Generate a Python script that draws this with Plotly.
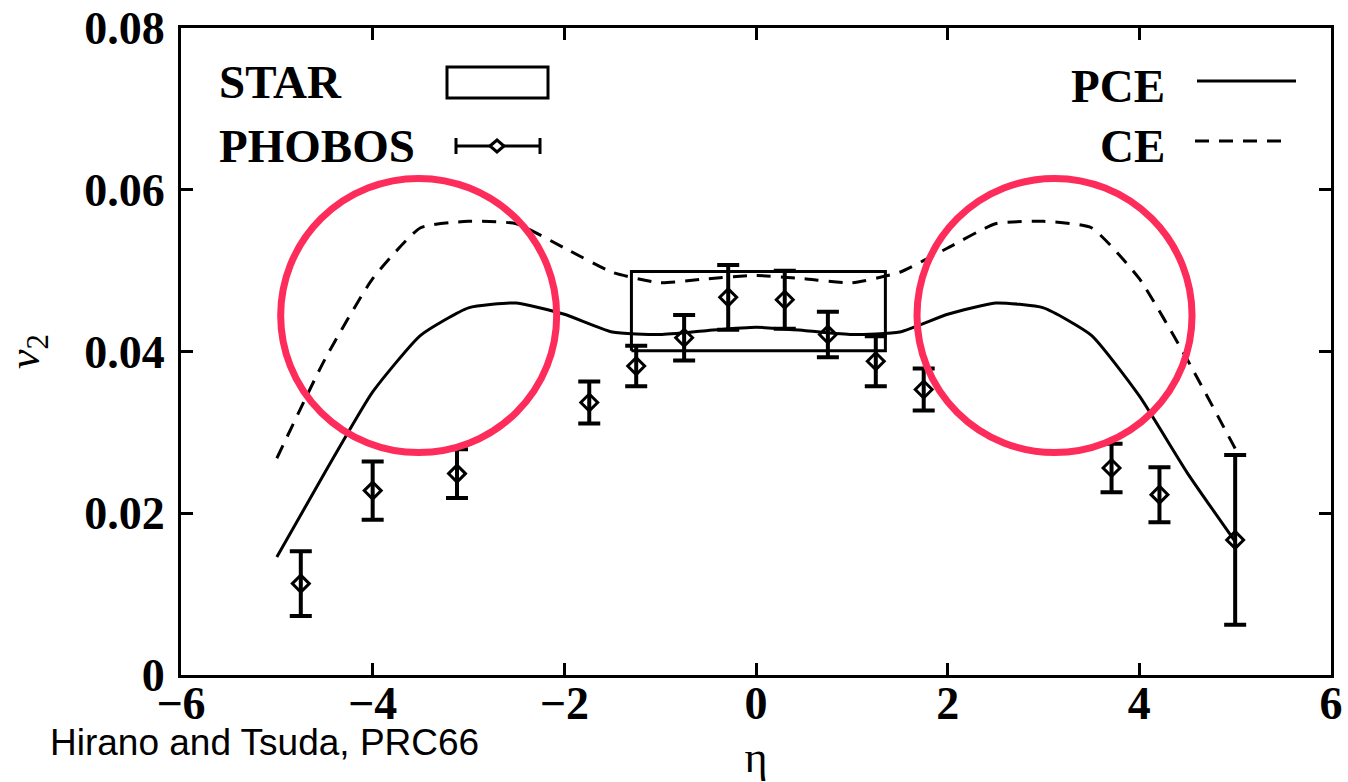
import plotly.graph_objects as go

# ---------------- data ----------------
phobos_eta = [-4.75, -4.0, -3.12, -1.74, -1.25, -0.75, -0.29, 0.30, 0.75, 1.25, 1.75, 3.71, 4.21, 5.0]
phobos_v2 = [0.0113, 0.0228, 0.0249, 0.0337, 0.0382, 0.0417, 0.0467, 0.0464, 0.0421, 0.0388, 0.0353, 0.0256, 0.0223, 0.0167]
phobos_err = [0.0040, 0.0036, 0.0030, 0.0026, 0.0025, 0.0028, 0.0040, 0.0036, 0.0028, 0.0031, 0.0026, 0.0030, 0.0034, 0.0105]

star_eta = [-1.3, 1.35]
star_v2 = [0.0401, 0.0499]

model_eta = [-5.0, -4.5, -4.0, -3.5, -3.0, -2.5, -2.0, -1.5, -1.0, -0.5, 0.0,
             0.5, 1.0, 1.5, 2.0, 2.5, 3.0, 3.5, 4.0, 4.5, 5.0]
pce_v2 = [0.0146, 0.0250, 0.0350, 0.0420, 0.0454, 0.0460, 0.0446, 0.0424, 0.0421, 0.0426, 0.0430,
          0.0426, 0.0421, 0.0424, 0.0446, 0.0460, 0.0454, 0.0420, 0.0345, 0.0250, 0.0165]
ce_v2 = [0.0268, 0.0390, 0.0490, 0.0553, 0.0561, 0.0558, 0.0528, 0.0498, 0.0485, 0.0490, 0.0494,
         0.0490, 0.0485, 0.0498, 0.0528, 0.0558, 0.0561, 0.0553, 0.0490, 0.0390, 0.0280]

x_ticks = [-6, -4, -2, 0, 2, 4, 6]
x_ticklabels = ["\u22126", "\u22124", "\u22122", "0", "2", "4", "6"]
y_ticks = [0, 0.02, 0.04, 0.06, 0.08]
y_ticklabels = ["0", "0.02", "0.04", "0.06", "0.08"]

# highlight circles (eta range, v2 range)
circles = [((-4.96, -2.08), (0.0275, 0.0614)),
           ((1.68, 4.55), (0.0275, 0.0614))]

# ---------------- layout geometry ----------------
FIG_W, FIG_H = 1348, 782
L, R, T, B = 181, 17, 28, 107
PW = FIG_W - L - R
PH = FIG_H - T - B


def px_x(px):
    return (px - L) / PW


def px_y(py):
    return (FIG_H - B - py) / PH


SERIF = "Liberation Serif"
BLACK = "black"

fig = go.Figure()

# STAR box
fig.add_trace(go.Scatter(
    x=[star_eta[0], star_eta[1], star_eta[1], star_eta[0], star_eta[0]],
    y=[star_v2[0], star_v2[0], star_v2[1], star_v2[1], star_v2[0]],
    mode="lines", line=dict(color=BLACK, width=3), showlegend=False, hoverinfo="skip"))

# PCE solid
fig.add_trace(go.Scatter(x=model_eta, y=pce_v2, mode="lines", line_shape="spline",
                         line=dict(color=BLACK, width=3, smoothing=0.5), showlegend=False))
# CE dashed
fig.add_trace(go.Scatter(x=model_eta, y=ce_v2, mode="lines", line_shape="spline",
                         line=dict(color=BLACK, width=3, dash="14px,10px", smoothing=0.5),
                         showlegend=False))

# PHOBOS points
fig.add_trace(go.Scatter(
    x=phobos_eta, y=phobos_v2, mode="markers",
    marker=dict(symbol="diamond-open", size=13, color=BLACK, line=dict(width=3, color=BLACK)),
    error_y=dict(type="data", array=phobos_err, visible=True, color=BLACK, thickness=4, width=11),
    showlegend=False))

shapes = []
# highlight circles
for (cx, cy) in circles:
    shapes.append(dict(type="circle", xref="x", yref="y", x0=cx[0], x1=cx[1], y0=cy[0], y1=cy[1],
                       line=dict(color="#FE2C5A", width=7), layer="above"))

# ---- custom legend ----
# STAR rectangle sample
shapes.append(dict(type="rect", xref="paper", yref="paper",
                   x0=px_x(447), x1=px_x(548), y0=px_y(98), y1=px_y(67),
                   line=dict(color=BLACK, width=3)))
# PHOBOS error-bar sample
shapes.append(dict(type="line", xref="paper", yref="paper",
                   x0=px_x(456), x1=px_x(540), y0=px_y(146), y1=px_y(146),
                   line=dict(color=BLACK, width=3)))
for xx in (456, 540):
    shapes.append(dict(type="line", xref="paper", yref="paper",
                       x0=px_x(xx), x1=px_x(xx), y0=px_y(138), y1=px_y(154),
                       line=dict(color=BLACK, width=3)))
cxp, cyp = 497, 146
shapes.append(dict(type="path", xref="paper", yref="paper",
                   path=(f"M {px_x(cxp-7)} {px_y(cyp)} L {px_x(cxp)} {px_y(cyp-6)} "
                         f"L {px_x(cxp+7)} {px_y(cyp)} L {px_x(cxp)} {px_y(cyp+6)} Z"),
                   fillcolor="white", line=dict(color=BLACK, width=3)))
# PCE / CE samples
shapes.append(dict(type="line", xref="paper", yref="paper",
                   x0=px_x(1197), x1=px_x(1296), y0=px_y(81), y1=px_y(81),
                   line=dict(color=BLACK, width=3)))
shapes.append(dict(type="line", xref="paper", yref="paper",
                   x0=px_x(1195), x1=px_x(1290), y0=px_y(141), y1=px_y(141),
                   line=dict(color=BLACK, width=3, dash="14px,10px")))

LEG_FONT = dict(family=SERIF, size=47, color=BLACK, weight="bold")
annotations = [
    dict(text="STAR", x=px_x(217), y=px_y(82), xref="paper", yref="paper",
         xanchor="left", yanchor="middle", showarrow=False, font=LEG_FONT),
    dict(text="PHOBOS", x=px_x(217), y=px_y(146), xref="paper", yref="paper",
         xanchor="left", yanchor="middle", showarrow=False, font=LEG_FONT),
    dict(text="PCE", x=px_x(1167), y=px_y(86), xref="paper", yref="paper",
         xanchor="right", yanchor="middle", showarrow=False, font=LEG_FONT),
    dict(text="CE", x=px_x(1167), y=px_y(146), xref="paper", yref="paper",
         xanchor="right", yanchor="middle", showarrow=False, font=LEG_FONT),
    dict(text="Hirano and Tsuda, PRC66", x=px_x(48), y=px_y(742), xref="paper", yref="paper",
         xanchor="left", yanchor="middle", showarrow=False,
         font=dict(family="Liberation Sans", size=37, color=BLACK)),
]

TICK_FONT = dict(family=SERIF, size=46, color=BLACK, weight="bold")
fig.update_layout(
    width=FIG_W, height=FIG_H,
    margin=dict(l=L, r=R, t=T, b=B, autoexpand=False),
    paper_bgcolor="white", plot_bgcolor="white",
    showlegend=False,
    shapes=shapes, annotations=annotations,
    xaxis=dict(range=[-6, 6], tickmode="array", tickvals=x_ticks, ticktext=x_ticklabels,
               showgrid=False, zeroline=False, showline=True, linecolor=BLACK, linewidth=3,
               mirror="ticks", ticks="inside", ticklen=12, tickwidth=3, tickcolor=BLACK,
               ticklabelstandoff=-14,
               tickfont=TICK_FONT,
               title=dict(text="\u03b7", font=dict(family=SERIF, size=44, color=BLACK), standoff=18)),
    yaxis=dict(range=[0, 0.08], tickmode="array", tickvals=y_ticks, ticktext=y_ticklabels,
               showgrid=False, zeroline=False, showline=True, linecolor=BLACK, linewidth=3,
               mirror="ticks", ticks="inside", ticklen=12, tickwidth=3, tickcolor=BLACK,
               ticklabelstandoff=4,
               tickfont=TICK_FONT,
               title=dict(text="<i>v</i><sub>2</sub>", font=dict(family=SERIF, size=44, color=BLACK),
                          standoff=32)),
)

fig.write_html("out.html")
